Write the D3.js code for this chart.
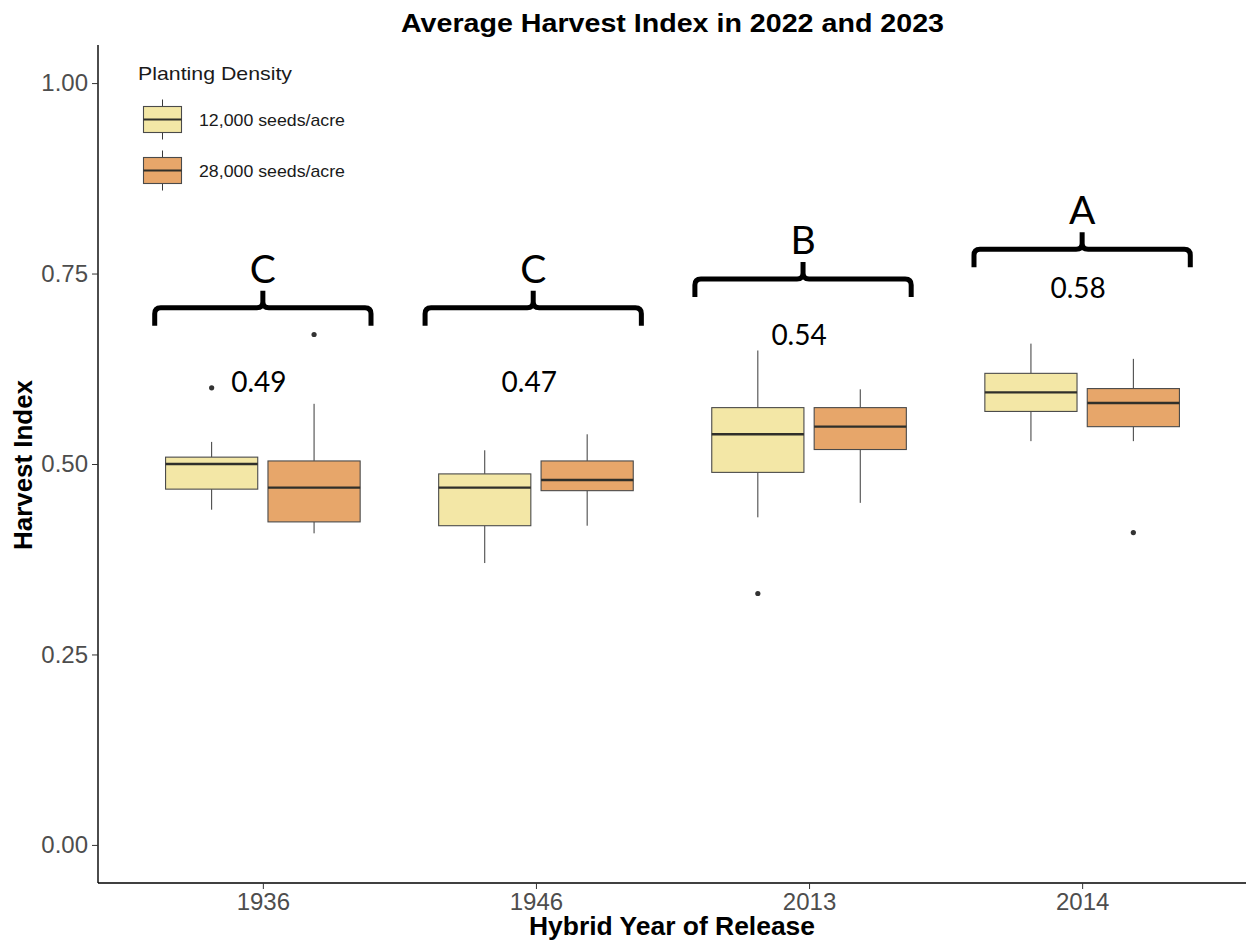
<!DOCTYPE html>
<html>
<head>
<meta charset="utf-8">
<script src="https://cdn.jsdelivr.net/npm/d3@7"></script>
<style>
  html, body { margin: 0; padding: 0; background: #ffffff; }
  svg { display: block; }
  .gg { font-family: "Liberation Sans", Arial, sans-serif; }
  .note { font-family: Lato, "Open Sans", sans-serif; }
</style>
</head>
<body>
<svg id="chart" width="1251" height="945"></svg>
<script>
// Hybrid years on the x axis and the two planting densities
const years = ["1936", "1946", "2013", "2014"];
const densities = ["12,000 seeds/acre", "28,000 seeds/acre"];
const fills = ["#F3E7A6", "#E7A66A"];

// Box summaries per year: lower whisker, Q1, median, Q3, upper whisker
const low12  = [0.440, 0.370, 0.430, 0.530];
const q1_12  = [0.467, 0.419, 0.489, 0.569];
const med12  = [0.500, 0.469, 0.539, 0.594];
const q3_12  = [0.509, 0.487, 0.574, 0.619];
const high12 = [0.529, 0.518, 0.649, 0.658];
const out12  = [[0.600], [], [0.330], []];

const low28  = [0.409, 0.419, 0.449, 0.530];
const q1_28  = [0.424, 0.465, 0.519, 0.549];
const med28  = [0.469, 0.479, 0.549, 0.580];
const q3_28  = [0.504, 0.504, 0.574, 0.599];
const high28 = [0.579, 0.539, 0.598, 0.638];
const out28  = [[0.670], [], [], [0.410]];

// Year means, significance letters, and the heights they sit at (Harvest Index units)
const meanLabels = ["0.49", "0.47", "0.54", "0.58"];
const letters = ["C", "C", "B", "A"];
const meanLabelAt = [0.608, 0.608, 0.669, 0.731];
const bracketAt = [0.705, 0.705, 0.743, 0.782];
// small sideways nudge of each bracket group, in fractions of a category step
const bracketNudge = [0, -0.01, -0.022, 0];

const yTicks = [0, 0.25, 0.5, 0.75, 1.0];

// Build one record per box from the arrays above
const boxes = [];
years.forEach((yr, i) => {
  boxes.push({ year: yr, d: 0, low: low12[i], q1: q1_12[i], med: med12[i], q3: q3_12[i], high: high12[i], out: out12[i] });
  boxes.push({ year: yr, d: 1, low: low28[i], q1: q1_28[i], med: med28[i], q3: q3_28[i], high: high28[i], out: out28[i] });
});

const svg = d3.select("#chart");
const panel = { left: 98, right: 1246, top: 45, bottom: 883 };

const x = d3.scalePoint().domain(years).range([panel.left + 1, panel.right]).padding(0.6);
const y = d3.scaleLinear().domain([-0.05, 1.05]).range([panel.bottom, panel.top]);
const step = x.step();
const dodge = step * 0.1875;
const boxW = step * 0.3375;
const cx = b => x(b.year) + (b.d === 0 ? -dodge : dodge);

// Title
svg.append("text").attr("class", "gg")
  .attr("x", 672.5).attr("y", 32)
  .attr("text-anchor", "middle")
  .attr("font-size", 25).attr("font-weight", "bold").attr("fill", "#000")
  .attr("textLength", 543).attr("lengthAdjust", "spacingAndGlyphs")
  .text("Average Harvest Index in 2022 and 2023");

// Axes
const yAxis = d3.axisLeft(y).tickValues(yTicks).tickFormat(d3.format(".2f")).tickSize(6).tickPadding(4);
const gy = svg.append("g").attr("class", "gg").attr("transform", `translate(${panel.left},0)`).call(yAxis);
gy.select(".domain").attr("d", `M0,${panel.top}V${panel.bottom}`).attr("stroke", "#000").attr("stroke-width", 1.4);
gy.selectAll(".tick line").attr("stroke", "#333").attr("stroke-width", 1);
gy.selectAll(".tick text").attr("font-size", 24).attr("fill", "#4d4d4d").attr("font-family", "Liberation Sans, Arial, sans-serif");

const xAxis = d3.axisBottom(x).tickSize(6).tickPadding(4);
const gx = svg.append("g").attr("class", "gg").attr("transform", `translate(0,${panel.bottom})`).call(xAxis);
gx.select(".domain").attr("d", `M${panel.left},0H${panel.right}`).attr("stroke", "#000").attr("stroke-width", 1.4);
gx.selectAll(".tick line").attr("stroke", "#333").attr("stroke-width", 1);
gx.selectAll(".tick text").attr("font-size", 24).attr("fill", "#4d4d4d").attr("font-family", "Liberation Sans, Arial, sans-serif");

// Axis titles
svg.append("text").attr("class", "gg")
  .attr("x", 672).attr("y", 935)
  .attr("text-anchor", "middle")
  .attr("font-size", 25).attr("font-weight", "bold")
  .attr("textLength", 286).attr("lengthAdjust", "spacingAndGlyphs")
  .text("Hybrid Year of Release");
svg.append("text").attr("class", "gg")
  .attr("transform", `translate(32,${465}) rotate(-90)`)
  .attr("text-anchor", "middle")
  .attr("font-size", 25).attr("font-weight", "bold")
  .attr("textLength", 170).attr("lengthAdjust", "spacingAndGlyphs")
  .text("Harvest Index");

// Box plots
const gb = svg.append("g");
const bx = gb.selectAll("g.box").data(boxes).join("g").attr("class", "box");
bx.append("line")
  .attr("x1", cx).attr("x2", cx)
  .attr("y1", b => y(b.high)).attr("y2", b => y(b.q3))
  .attr("stroke", "#3a3a3a").attr("stroke-width", 1);
bx.append("line")
  .attr("x1", cx).attr("x2", cx)
  .attr("y1", b => y(b.q1)).attr("y2", b => y(b.low))
  .attr("stroke", "#3a3a3a").attr("stroke-width", 1);
bx.append("rect")
  .attr("x", b => cx(b) - boxW / 2).attr("width", boxW)
  .attr("y", b => y(b.q3)).attr("height", b => y(b.q1) - y(b.q3))
  .attr("fill", b => fills[b.d]).attr("stroke", "#4a4a4a").attr("stroke-width", 1.1);
bx.append("line")
  .attr("x1", b => cx(b) - boxW / 2).attr("x2", b => cx(b) + boxW / 2)
  .attr("y1", b => y(b.med)).attr("y2", b => y(b.med))
  .attr("stroke", "#2f2f2a").attr("stroke-width", 2.4);
bx.selectAll("circle").data(b => b.out.map(v => ({ v, b }))).join("circle")
  .attr("cx", o => cx(o.b)).attr("cy", o => y(o.v)).attr("r", 2.6)
  .attr("fill", "#333");

// Curly brackets with grouping letters and year means
function bracePath(xc, y0, half) {
  const l = xc - half, r = xc + half, drop = 18, rise = 17, c = 6;
  return `M${l},${y0 + drop} L${l},${y0 + c} Q${l},${y0} ${l + c},${y0} L${xc - c},${y0} Q${xc},${y0} ${xc},${y0 - c} L${xc},${y0 - rise}` +
         ` M${xc},${y0 - c} Q${xc},${y0} ${xc + c},${y0} L${r - c},${y0} Q${r},${y0} ${r},${y0 + c} L${r},${y0 + drop}`;
}
const ga = svg.append("g");
years.forEach((yr, i) => {
  const xc = x(yr) + bracketNudge[i] * step;
  const yb = y(bracketAt[i]);
  ga.append("path").attr("d", bracePath(xc, yb, step * 0.396))
    .attr("fill", "none").attr("stroke", "#000").attr("stroke-width", 5)
    .attr("stroke-linejoin", "round");
  ga.append("text").attr("class", "note")
    .attr("x", xc).attr("y", yb - 25)
    .attr("text-anchor", "middle").attr("font-size", 39).attr("fill", "#000")
    .text(letters[i]);
  ga.append("text").attr("class", "note")
    .attr("x", xc - 4).attr("y", y(meanLabelAt[i]) + 10)
    .attr("text-anchor", "middle").attr("font-size", 28).attr("fill", "#000")
    .text(meanLabels[i]);
});

// Legend
const lg = svg.append("g").attr("class", "gg");
lg.append("text").attr("x", 138).attr("y", 80).attr("font-size", 19).attr("fill", "#1a1a1a")
  .attr("textLength", 154).attr("lengthAdjust", "spacingAndGlyphs")
  .text("Planting Density");
densities.forEach((name, i) => {
  const ky = 119.5 + i * 51;
  const kx = 162.5;
  const k = lg.append("g");
  k.append("line").attr("x1", kx).attr("x2", kx).attr("y1", ky - 20).attr("y2", ky + 20).attr("stroke", "#3a3a3a");
  k.append("rect").attr("x", kx - 19).attr("y", ky - 13).attr("width", 38).attr("height", 26)
    .attr("fill", fills[i]).attr("stroke", "#4a4a4a").attr("stroke-width", 1.1);
  k.append("line").attr("x1", kx - 19).attr("x2", kx + 19).attr("y1", ky).attr("y2", ky).attr("stroke", "#2f2f2a").attr("stroke-width", 2);
  k.append("text").attr("x", 199).attr("y", ky + 6).attr("font-size", 17).attr("fill", "#1a1a1a")
    .attr("textLength", 146).attr("lengthAdjust", "spacingAndGlyphs")
    .text(name);
});
</script>
</body>
</html>
